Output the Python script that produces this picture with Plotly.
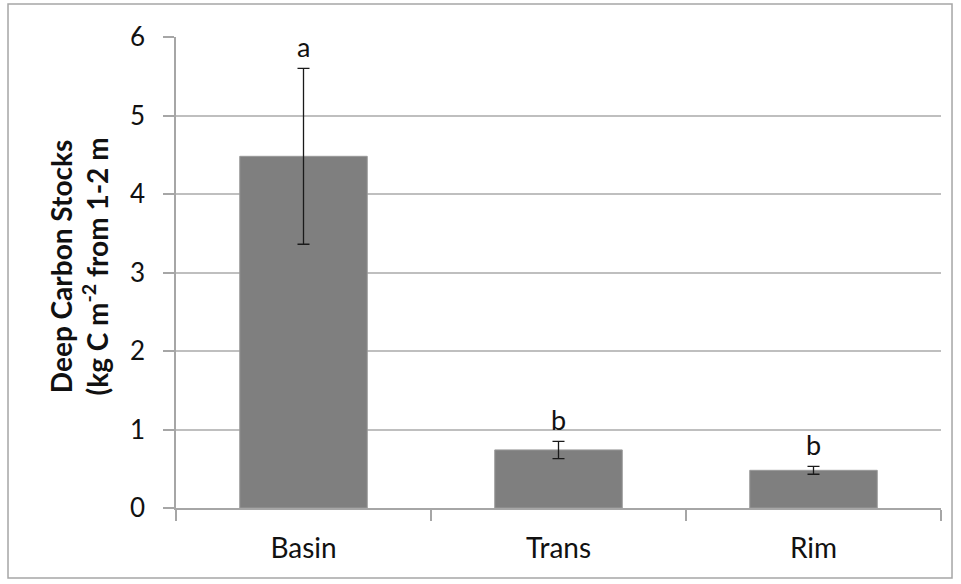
import plotly.graph_objects as go

# Deep carbon stocks by landscape position
sites = ["Basin", "Trans", "Rim"]
carbon = [4.48, 0.74, 0.48]
carbon_err = [1.12, 0.11, 0.05]
groups = ["a", "b", "b"]
y_ticks = [0, 1, 2, 3, 4, 5, 6]

FONT = "Lato"

fig = go.Figure()
fig.add_trace(go.Bar(
    x=sites,
    y=carbon,
    marker=dict(color="#7f7f7f", line=dict(color="#9a9a9a", width=1)),
    error_y=dict(type="data", array=carbon_err, visible=True,
                 color="#1a1a1a", thickness=1.3, width=6),
    width=0.5,
))

# significance letters above each error bar
for s, v, e, g in zip(sites, carbon, carbon_err, groups):
    fig.add_annotation(x=s, y=v + e, text=g, showarrow=False,
                       yanchor="bottom", yshift=3,
                       font=dict(family=FONT, size=27, color="#111111"))

# y-axis title (two lines, bold)
fig.add_annotation(
    xref="paper", yref="paper", x=0, y=0.5, xshift=-98, yshift=6,
    text="<b>Deep Carbon Stocks<br>(kg C m<sup>-2</sup> from 1-2 m</b>",
    textangle=-90, showarrow=False, xanchor="center", yanchor="middle",
    font=dict(family=FONT, size=28, color="#111111"),
)

# outer chart frame
fig.add_shape(type="rect", xref="paper", yref="paper",
              x0=-0.2196, x1=1.0144, y0=-0.1486, y1=1.070,
              line=dict(color="#a6a6a6", width=1.5), layer="below")

fig.update_layout(
    width=961, height=584,
    margin=dict(l=176, r=20, t=37, b=76),
    paper_bgcolor="white", plot_bgcolor="white",
    showlegend=False,
    font=dict(family=FONT, color="#111111"),
)
fig.update_xaxes(
    showline=True, linecolor="#a6a6a6", linewidth=1.5,
    ticks="outside", ticklen=11, tickcolor="#a6a6a6", tickwidth=1.5,
    tickson="boundaries", ticklabelstandoff=15,
    tickfont=dict(family=FONT, size=28, color="#111111"),
    showgrid=False,
)
fig.update_yaxes(
    range=[0, 6], tickvals=y_ticks,
    showline=True, linecolor="#a6a6a6", linewidth=1.5,
    ticks="outside", ticklen=11, tickcolor="#a6a6a6", tickwidth=1.5,
    showgrid=True, gridcolor="#bfbfbf", gridwidth=1.5,
    zeroline=False, ticklabelstandoff=13,
    tickfont=dict(family=FONT, size=26, color="#111111"),
)

fig.write_html("out.html")
